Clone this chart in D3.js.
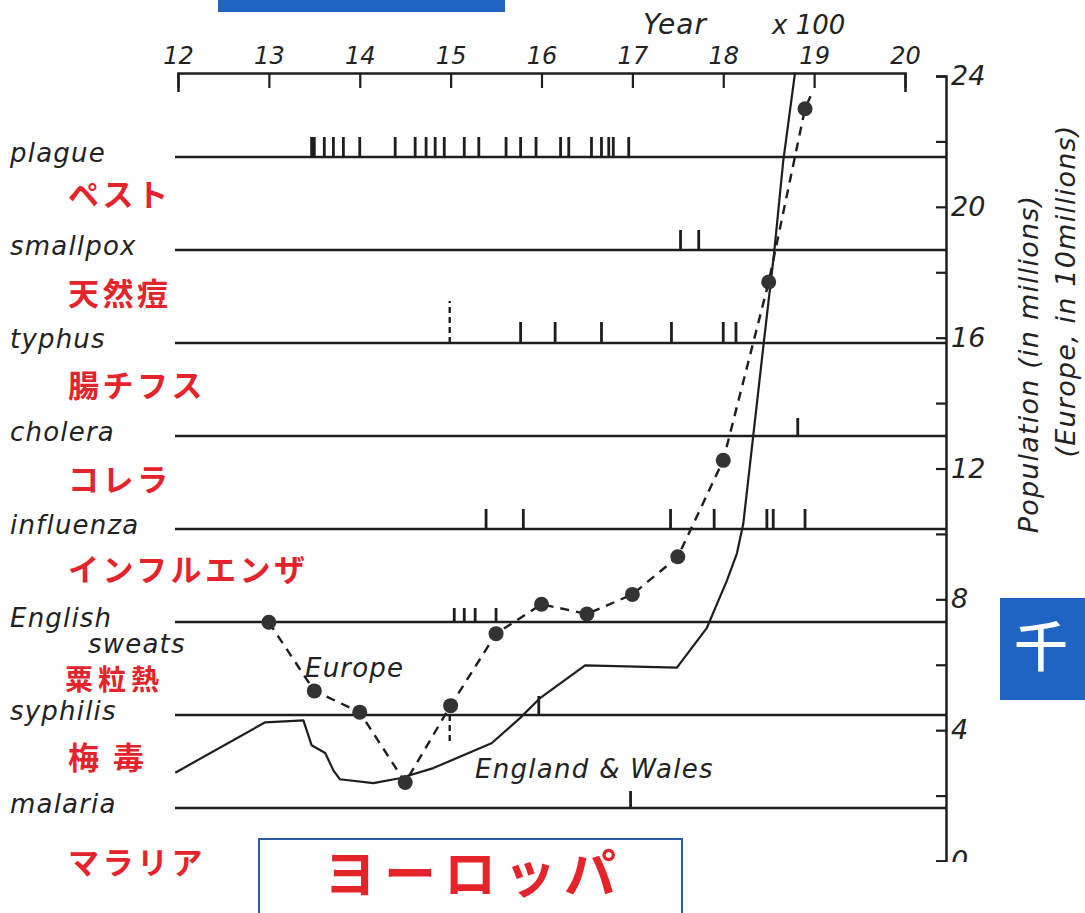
<!DOCTYPE html>
<html>
<head>
<meta charset="utf-8">
<script src="https://cdn.jsdelivr.net/npm/d3@7"></script>
<style>
  html, body { margin: 0; padding: 0; background: #fff; overflow: hidden; }
  svg { display: block; }
  .lat { font-family: "DejaVu Sans", sans-serif; font-style: italic; fill: #222; }
  .ja { font-family: "Noto Sans CJK JP", sans-serif; font-weight: 700; fill: #e5232b; }
</style>
</head>
<body>
<svg id="chart" width="1085" height="913"></svg>
<script>
// Epidemic years (x100 axis) per disease, and population curves
const diseases   = ["plague", "smallpox", "typhus", "cholera", "influenza", "English sweats", "syphilis", "malaria"];
const diseasesJa = ["ペスト", "天然痘", "腸チフス", "コレラ", "インフルエンザ", "粟粒熱", "梅 毒", "マラリア"];

const plagueYears    = [1347, 1350, 1361, 1371, 1382, 1400, 1439, 1461, 1473, 1483, 1493, 1515, 1531, 1561, 1577, 1594, 1621, 1630, 1655, 1666, 1674, 1679, 1696];
const smallpoxYears  = [1753, 1773];
const typhusYears    = [1577, 1615, 1666, 1743, 1800, 1814];
const choleraYears   = [1882];
const influenzaYears = [1539, 1580, 1742, 1790, 1848, 1855, 1890];
const sweatsYears    = [1504, 1515, 1527, 1550];
const syphilisYears  = [1597];
const malariaYears   = [1698];
const typhusDashedYear   = 1499;   // dashed mark above the typhus line
const syphilisDashedYear = 1499;   // dashed mark below the syphilis line

// Europe (in 10 millions) — dashed line with dots
const europeYears  = [1300, 1350, 1400, 1450, 1500, 1550, 1600, 1650, 1700, 1750, 1800, 1850, 1890];
const europeValues = [7.3, 5.2, 4.55, 2.4, 4.75, 6.95, 7.85, 7.55, 8.15, 9.3, 12.25, 17.7, 23.0];
const europeTail   = [1898, 23.5];

// England & Wales (in millions) — solid line
const englandYears  = [1197, 1296, 1338, 1347, 1362, 1371, 1378, 1415, 1444, 1481, 1532, 1545, 1576, 1598, 1648, 1749, 1782, 1804, 1815, 1822, 1844, 1856, 1866, 1879];
const englandValues = [2.7, 4.24, 4.3, 3.54, 3.3, 2.77, 2.5, 2.38, 2.53, 2.84, 3.45, 3.6, 4.36, 4.97, 5.98, 5.91, 7.13, 8.57, 9.4, 10.3, 15.7, 18.6, 21.4, 24.1];

const centuryTicks = [1200, 1300, 1400, 1500, 1600, 1700, 1800, 1900, 2000];
const popTicks = d3.range(0, 25, 2);

const svg = d3.select("#chart");
svg.append("rect").attr("width", 1085).attr("height", 913).attr("fill", "#fff");

const x = d3.scaleLinear().domain([1200, 2000]).range([178, 905]);
const y = d3.scaleLinear().domain([0, 24]).range([861, 76]);
const row = d3.scalePoint().domain(diseases).range([157, 808]);

const ink = "#1e1e1e";
const axisRightX = 946;

// decorative slide boxes
svg.append("rect").attr("x", 218).attr("y", -5).attr("width", 287).attr("height", 17).attr("fill", "#1f63c3");
svg.append("rect").attr("x", 1000).attr("y", 598).attr("width", 100).attr("height", 102).attr("fill", "#1f63c3");
svg.append("text").attr("x", 1014).attr("y", 667)
  .attr("font-family", "Noto Sans CJK JP").attr("font-size", 54).attr("font-weight", 500)
  .attr("fill", "#fff").text("千");

// top year axis
const xAxis = d3.axisTop(x).tickValues(centuryTicks)
  .tickFormat(d => String(d / 100)).tickSize(-15).tickSizeOuter(-19).tickPadding(9);
const gx = svg.append("g").attr("transform", "translate(0,73)").call(xAxis);
gx.select(".domain").attr("stroke", ink).attr("stroke-width", 2.5);
gx.selectAll(".tick line").attr("stroke", ink).attr("stroke-width", 2.2);
gx.selectAll(".tick text").attr("class", "lat").attr("font-size", 24).attr("fill", ink);

svg.append("text").attr("class", "lat").attr("x", 643).attr("y", 34).attr("font-size", 28).attr("letter-spacing", 1).text("Year");
svg.append("text").attr("class", "lat").attr("x", 772).attr("y", 34).attr("font-size", 26).text("x 100");

// right population axis
svg.append("clipPath").attr("id", "axclip").append("rect")
  .attr("x", 900).attr("y", 0).attr("width", 200).attr("height", 862);
const yAxis = d3.axisRight(y).tickValues(popTicks)
  .tickFormat(d => d % 4 === 0 ? String(d) : "").tickSize(-10).tickSizeOuter(-10).tickPadding(5);
const gy = svg.append("g").attr("clip-path", "url(#axclip)")
  .append("g").attr("transform", `translate(${axisRightX},0)`).call(yAxis);
gy.select(".domain").attr("stroke", ink).attr("stroke-width", 2.5);
gy.selectAll(".tick line").attr("stroke", ink).attr("stroke-width", 2.2);
gy.selectAll(".tick text").attr("class", "lat").attr("font-size", 27).attr("fill", ink);

svg.append("text").attr("class", "lat").attr("font-size", 27).attr("letter-spacing", 1.2)
  .attr("text-anchor", "middle").attr("transform", "translate(1038,364) rotate(-90)")
  .text("Population (in millions)");
svg.append("text").attr("class", "lat").attr("font-size", 27).attr("letter-spacing", 1.2)
  .attr("text-anchor", "middle").attr("transform", "translate(1075,291) rotate(-90)")
  .text("(Europe, in 10millions)");

// disease rows
svg.append("g").selectAll("line").data(diseases).join("line")
  .attr("x1", 175).attr("x2", axisRightX)
  .attr("y1", d => row(d)).attr("y2", d => row(d))
  .attr("stroke", ink).attr("stroke-width", 2.4);

const eventSets = [
  { name: "plague", years: plagueYears, h: 20 },
  { name: "smallpox", years: smallpoxYears, h: 20 },
  { name: "typhus", years: typhusYears, h: 21 },
  { name: "cholera", years: choleraYears, h: 18 },
  { name: "influenza", years: influenzaYears, h: 20 },
  { name: "English sweats", years: sweatsYears, h: 14 },
  { name: "syphilis", years: syphilisYears, h: 19 },
  { name: "malaria", years: malariaYears, h: 17 }
];
const ev = svg.append("g");
eventSets.forEach(s => {
  ev.selectAll(null).data(s.years).join("line")
    .attr("x1", d => x(d)).attr("x2", d => x(d))
    .attr("y1", row(s.name)).attr("y2", row(s.name) - s.h)
    .attr("stroke", ink).attr("stroke-width", 2.8);
});
ev.append("line")
  .attr("x1", x(typhusDashedYear)).attr("x2", x(typhusDashedYear))
  .attr("y1", row("typhus")).attr("y2", row("typhus") - 42)
  .attr("stroke", ink).attr("stroke-width", 2.4).attr("stroke-dasharray", "6,4");
ev.append("line")
  .attr("x1", x(syphilisDashedYear)).attr("x2", x(syphilisDashedYear))
  .attr("y1", row("syphilis")).attr("y2", row("syphilis") + 28)
  .attr("stroke", ink).attr("stroke-width", 2.4).attr("stroke-dasharray", "6,4");

// English labels
const labelG = svg.append("g");
const enLabels = diseases.map(d => d === "English sweats" ? "English" : d);
labelG.selectAll(null).data(diseases).join("text")
  .attr("class", "lat").attr("font-size", 26).attr("letter-spacing", 1.2)
  .attr("x", 10).attr("y", d => row(d) + 5)
  .text((d, i) => enLabels[i]);
labelG.append("text").attr("class", "lat").attr("font-size", 26).attr("letter-spacing", 1.2)
  .attr("x", 88).attr("y", row("English sweats") + 31).text("sweats");

// Japanese labels between rows (the one squeezed between "sweats" and "syphilis" is set smaller)
const jaOffset = [38, 44, 43, 44, 41, 57, 43, 55];
const jaSize   = [31, 31, 31, 31, 31, 28, 31, 31];
labelG.selectAll(null).data(diseasesJa).join("text")
  .attr("class", "ja").attr("font-size", (d, i) => jaSize[i])
  .attr("letter-spacing", (d, i) => i === 5 ? 5 : 3.5)
  .attr("x", (d, i) => i === 5 ? 65 : 68)
  .attr("y", (d, i) => row(diseases[i]) + jaOffset[i] + 11)
  .text(d => d);

// England & Wales
const plot = svg.append("g");
const englandLine = d3.line().x((d, i) => x(englandYears[i])).y(d => y(d));
plot.append("path").datum(englandValues)
  .attr("d", englandLine).attr("fill", "none")
  .attr("stroke", ink).attr("stroke-width", 2.2).attr("stroke-linejoin", "round");

// Europe
const europePts = europeYears.map((yr, i) => [yr, europeValues[i]]).concat([europeTail]);
plot.append("path").datum(europePts)
  .attr("d", d3.line().x(d => x(d[0])).y(d => y(d[1])))
  .attr("fill", "none").attr("stroke", ink).attr("stroke-width", 2.4).attr("stroke-dasharray", "9,7");
plot.selectAll("circle").data(europeValues).join("circle")
  .attr("cx", (d, i) => x(europeYears[i])).attr("cy", d => y(d))
  .attr("r", 7.5).attr("fill", "#333");

svg.append("text").attr("class", "lat").attr("font-size", 26).attr("letter-spacing", 1.2).attr("x", 305).attr("y", 677).text("Europe");
svg.append("text").attr("class", "lat").attr("font-size", 26).attr("letter-spacing", 1.3).attr("x", 475).attr("y", 778).text("England & Wales");

// bottom caption box
svg.append("rect").attr("x", 259).attr("y", 839).attr("width", 423).attr("height", 90)
  .attr("fill", "#fff").attr("stroke", "#2c5ca6").attr("stroke-width", 2);
svg.append("text").attr("class", "ja").attr("font-size", 52).attr("letter-spacing", 8)
  .attr("x", 474).attr("y", 893).attr("text-anchor", "middle").text("ヨーロッパ");
</script>
</body>
</html>
